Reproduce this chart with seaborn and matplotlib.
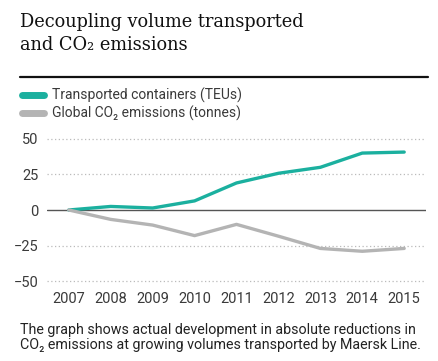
import pandas as pd
import matplotlib
matplotlib.use("Agg")
import matplotlib.pyplot as plt
from matplotlib.lines import Line2D
import seaborn as sns

# Data (index 2007 = 0)
years = [2007, 2008, 2009, 2010, 2011, 2012, 2013, 2014, 2015]
teu = [0, 2.5, 1.4, 6.4, 19, 25.8, 30, 40, 40.7]
co2 = [0, -6.6, -10.6, -18, -10.1, -18.4, -27, -29, -27]
series_names = ["Transported containers (TEUs)", "Global CO₂ emissions (tonnes)"]
yticks = [-50, -25, 0, 25, 50]

teal = "#1bb09f"
grey = "#b4b4b4"
text_col = "#3a3a3a"

df = pd.DataFrame({
    "year": years * 2,
    "value": teu + co2,
    "series": [series_names[0]] * len(years) + [series_names[1]] * len(years),
})

sns.set_style("white")
plt.rcParams["font.family"] = ["Roboto", "DejaVu Sans"]

fig = plt.figure(figsize=(4.38, 3.61), dpi=100)
ax = fig.add_axes([47 / 438, 1 - 284 / 361, (426 - 47) / 438, (284 - 136) / 361])

sns.lineplot(data=df, x="year", y="value", hue="series",
             palette=[teal, grey], linewidth=2.4, ax=ax, legend=False)

ax.set_xlim(2007 - 0.52, 2015 + 0.52)
ax.set_ylim(-52, 52)
ax.set_yticks(yticks)
ax.set_xticks(years)
ax.set_xticklabels([str(y) for y in years])
for t in yticks:
    if t == 0:
        ax.axhline(0, color="#555555", lw=1.0, zorder=1)
    else:
        ax.axhline(t, color="#bbbbbb", lw=0.9, ls=(0, (1, 2)), zorder=0)
for s in ax.spines.values():
    s.set_visible(False)
ax.tick_params(axis="both", length=0, labelsize=10.5, colors=text_col)
ax.tick_params(axis="y", pad=6)
ax.tick_params(axis="x", pad=6)
ax.set_xlabel("")
ax.set_ylabel("")

# Title and rule
fig.text(20 / 438, 1 - 13 / 361, "Decoupling volume transported\nand CO₂ emissions",
         family=["DejaVu Serif"], fontsize=12.8, color="#111111",
         va="top", ha="left", linespacing=1.35)
fig.add_artist(Line2D([20 / 438, 428 / 438], [1 - 77 / 361, 1 - 77 / 361],
                      color="#111111", lw=1.6))

# Legend
handles = [Line2D([0], [0], color=teal, lw=5), Line2D([0], [0], color=grey, lw=5)]
fig.legend(handles, series_names, loc="upper left",
           bbox_to_anchor=(16 / 438, 1 - 82 / 361), frameon=False,
           fontsize=10, handlelength=1.6, handletextpad=0.6,
           labelspacing=0.2, labelcolor=text_col, borderaxespad=0)

# Caption
fig.text(20 / 438, 1 - 323 / 361,
         "The graph shows actual development in absolute reductions in\n"
         "CO₂ emissions at growing volumes transported by Maersk Line.",
         fontsize=10.3, color="#222222", va="top", ha="left", linespacing=1.05)

fig.savefig("out.png", dpi=100)
